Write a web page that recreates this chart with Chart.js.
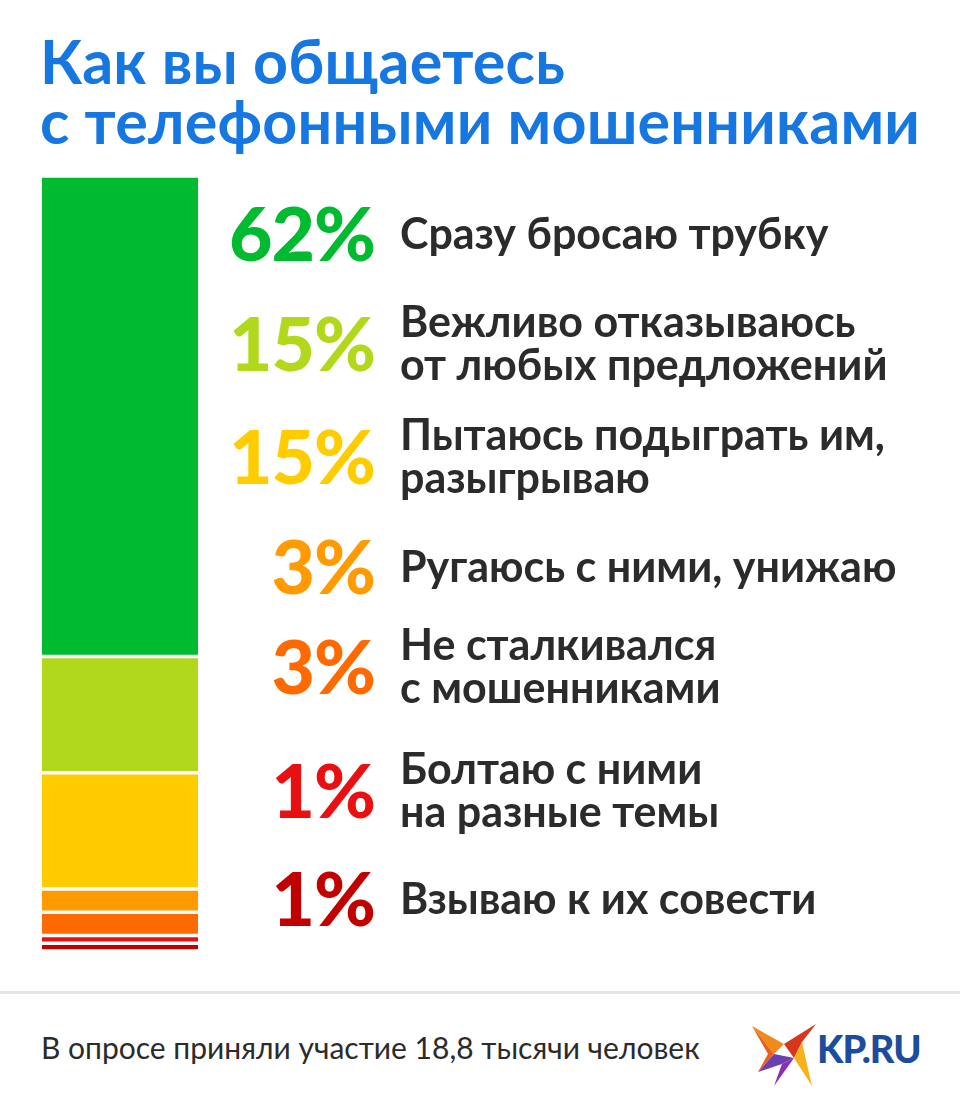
<!DOCTYPE html>
<html lang="ru">
<head>
<meta charset="utf-8">
<script src="https://cdn.jsdelivr.net/npm/chart.js@4.4.1/dist/chart.umd.min.js"></script>
<style>
  html, body { margin: 0; padding: 0; background: #fff; }
  body { width: 960px; height: 1112px; position: relative; overflow: hidden; font-family: Lato, "Open Sans", sans-serif; }
  .title { position: absolute; left: 40px; top: 31px; margin: 0; color: #1677e0; font-size: 61px; font-weight: 700; line-height: 60px; letter-spacing: 0.2px; }
  .bar-box { position: absolute; left: 42px; top: 176px; width: 156px; height: 775px; }
  .row { position: absolute; left: 0; display: flex; align-items: center; transform: translateY(-50%); }
  .pct { width: 375px; text-align: right; font-size: 75px; font-weight: 900; letter-spacing: -1px; line-height: 1; }
  .txt { margin-left: 25px; color: #2b2b2b; font-size: 43px; font-weight: 700; line-height: 43px; }
  .rule { position: absolute; left: 0; top: 991px; width: 960px; height: 3px; background: #e6e6e6; }
  .note { position: absolute; left: 41px; top: 1029px; font-size: 30px; color: #2b2b2b; font-weight: 400; }
  .logo { position: absolute; left: 750px; top: 1022px; }
</style>
</head>
<body>
<h1 class="title">Как вы общаетесь<br>с телефонными мошенниками</h1>
<div class="bar-box"><canvas id="myChart"></canvas></div>
<div id="rows"></div>
<div class="rule"></div>
<div class="note">В опросе приняли участие 18,8 тысячи человек</div>
<svg class="logo" width="190" height="66" viewBox="0 0 190 66">
  <polygon points="2,4 34,22 24,32" fill="#f08a1c"/>
  <polygon points="34,22 66,2 52,20 44,36" fill="#d9341c"/>
  <polygon points="24,32 44,36 32,42 8,50" fill="#6a3fb0"/>
  <polygon points="44,36 52,20 56,38 62,64" fill="#f6b21a"/>
  <polygon points="32,42 44,36 24,64" fill="#8b2fb5"/>
  <polygon points="2,4 24,32 8,50 18,32" fill="#e8601c"/>
  <text x="67" y="41" font-family="Lato, sans-serif" font-weight="900" font-size="38" fill="#1c4d9c" letter-spacing="-1">KP.RU</text>
</svg>
<script>
const answers = [
  "Сразу бросаю трубку",
  "Вежливо отказываюсь<br>от любых предложений",
  "Пытаюсь подыграть им,<br>разыгрываю",
  "Ругаюсь с ними, унижаю",
  "Не сталкивался<br>с мошенниками",
  "Болтаю с ними<br>на разные темы",
  "Взываю к их совести",
];
const shares = [62, 15, 15, 3, 3, 1, 1];
const colors = ["#00bb2f", "#b2d81b", "#ffcc00", "#ff9a00", "#ff6a00", "#e81010", "#c10000"];

// vertical centre of each text row (layout only)
const rowCenters = [232, 342, 455, 565, 665, 789, 897];

const rows = document.getElementById("rows");
answers.forEach((text, i) => {
  const row = document.createElement("div");
  row.className = "row";
  row.style.top = rowCenters[i] + "px";
  row.innerHTML = `<div class="pct" style="color:${colors[i]}">${shares[i]}%</div><div class="txt">${text}</div>`;
  rows.appendChild(row);
});

const data = {
  labels: ["all"],
  datasets: shares.map((v, i) => ({
    label: answers[i],
    data: [v],
    backgroundColor: colors[i],
    borderColor: "#ffffff",
    borderWidth: { top: 2, bottom: 2, left: 0, right: 0 },
    borderSkipped: false,
    barPercentage: 1,
    categoryPercentage: 1,
  })),
};

new Chart(document.getElementById("myChart"), {
  type: "bar",
  data: data,
  options: {
    responsive: true,
    maintainAspectRatio: false,
    animation: false,
    layout: { padding: 0 },
    scales: {
      x: { stacked: true, display: false },
      y: { stacked: true, display: false, min: 0, max: 100, reverse: true },
    },
    plugins: {
      legend: { display: false },
      tooltip: { enabled: false },
    },
  },
});
</script>
</body>
</html>
